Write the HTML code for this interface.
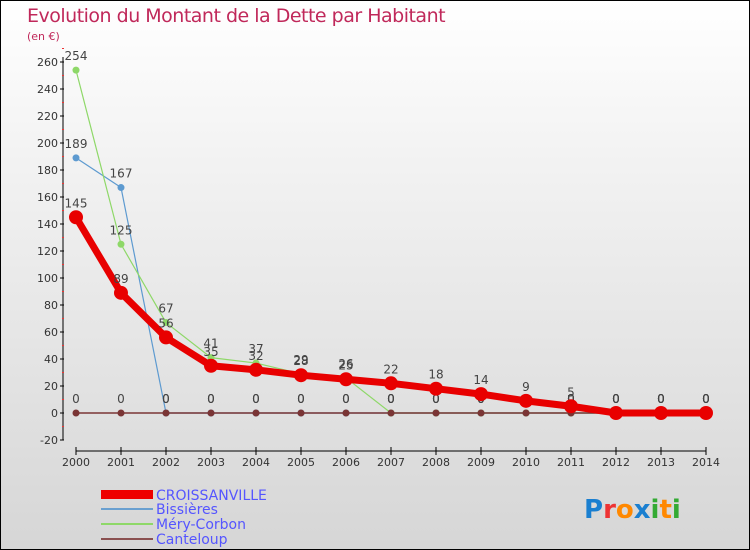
<!DOCTYPE html>
<html><head><meta charset="utf-8"><style>
body{margin:0}
#c{width:750px;height:550px;position:relative;box-sizing:border-box;border:1px solid #000;background:linear-gradient(#fff,#f2f2f2 30%,#d6d6d6);font-family:"DejaVu Sans","Liberation Sans",sans-serif;overflow:hidden}
text{font-family:"DejaVu Sans","Liberation Sans",sans-serif}
</style></head><body>
<div id="c">
<svg id="s" width="750" height="550">
<text x="26" y="21" font-size="19" fill="#c0285a" style="letter-spacing:-0.5px">Evolution du Montant de la Dette par Habitant</text>
<text x="26" y="39" font-size="11" fill="#c0285a">(en €)</text>
<g id="axes"></g><g id="series"></g>
<g>
<rect x="100" y="489" width="52" height="9" fill="#e00"/>
<text x="155" y="499" font-size="14" fill="#55f">CROISSANVILLE</text>
<line x1="100" y1="508" x2="152" y2="508" stroke="#6aa0d0" stroke-width="2"/>
<text x="155" y="513" font-size="14" fill="#55f">Bissières</text>
<line x1="100" y1="523" x2="152" y2="523" stroke="#8ed868" stroke-width="2"/>
<text x="155" y="528" font-size="14" fill="#55f">Méry-Corbon</text>
<line x1="100" y1="538" x2="152" y2="538" stroke="#8a5050" stroke-width="2"/>
<text x="155" y="543" font-size="14" fill="#55f">Canteloup</text>
</g>
<text x="583" y="517" font-size="26" font-weight="bold"><tspan fill="#1a7fd0">P</tspan><tspan fill="#e33">r</tspan><tspan fill="#f80">o</tspan><tspan fill="#1a7fd0">x</tspan><tspan fill="#3a3">i</tspan><tspan fill="#f80">t</tspan><tspan fill="#3a3">i</tspan></text>
</svg></div>
<script>
const years=[2000,2001,2002,2003,2004,2005,2006,2007,2008,2009,2010,2011,2012,2013,2014];
const yTicks=[-20,0,20,40,60,80,100,120,140,160,180,200,220,240,260];
const croissanville=[145,89,56,35,32,28,25,22,18,14,9,5,0,0,0];
const bissieres=[189,167,0,0,0,0,0,0,0,0,0,0,0,0,0];
const meryCorbon=[254,125,67,41,37,29,26,0,0,0,0,0,0,0,0];
const canteloup=[0,0,0,0,0,0,0,0,0,0,0,0,0,0,0];
const NS="http://www.w3.org/2000/svg";
const X=i=>75+i*45, Y=v=>412-v*1.35;
function mk(t,a,p){const e=document.createElementNS(NS,t);for(const k in a)e.setAttribute(k,a[k]);p.appendChild(e);return e;}
const ax=document.getElementById('axes'), sg=document.getElementById('series');
let l=mk('line',{x1:62,y1:Y(260)-5,x2:62,y2:Y(-20),stroke:'#000'},ax);


yTicks.forEach(v=>{mk('line',{x1:59,x2:63,y1:Y(v),y2:Y(v),stroke:'#000'},ax);
 mk('line',{x1:61,x2:63,y1:Y(v+10),y2:Y(v+10),stroke:'#e33'},ax);
 const t=mk('text',{x:57,y:Y(v)+4,'font-size':11,'text-anchor':'end',fill:'#333'},ax);t.textContent=v;
 
 });
l=mk('line',{x1:X(0),y1:450,x2:X(14),y2:450,stroke:'#000'},ax);


years.forEach((y,i)=>{mk('line',{x1:X(i),x2:X(i),y1:446,y2:454,stroke:'#000'},ax);
 const t=mk('text',{x:X(i),y:465,'font-size':11,'text-anchor':'middle',fill:'#333'},ax);t.textContent=y;
 
 });
function series(d,color,w,r,name){const g=mk('g',{},sg);
 
 
 mk('polyline',{points:d.map((v,i)=>X(i)+','+Y(v)).join(' '),fill:'none',stroke:color,'stroke-width':w,'stroke-linejoin':'round'},g);
 d.forEach((v,i)=>{const c=mk('circle',{cx:X(i),cy:Y(v),r:r,fill:color},g);
  
  
  const t=mk('text',{x:X(i),y:Y(v)-10,'font-size':12,'text-anchor':'middle',fill:'#444'},g);t.textContent=v;
  
  });}
series(bissieres,'#5d9ad0',1.2,3.5,'series-bissieres');
series(meryCorbon,'#8ed868',1.2,3.5,'series-mery-corbon');
series(canteloup,'#7a3535',1.5,3.5,'series-canteloup');
series(croissanville,'#e80000',7,7,'series-croissanville');
</script>
</body></html>
